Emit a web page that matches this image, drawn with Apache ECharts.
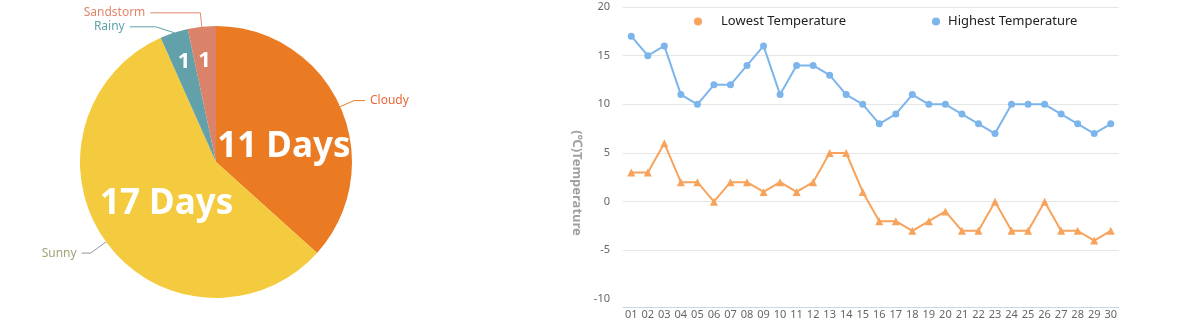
<!DOCTYPE html>
<html><head><meta charset="utf-8">
<script src="https://cdn.jsdelivr.net/npm/echarts@6/dist/echarts.min.js"></script>
<style>html,body{margin:0;padding:0;background:#fff}#c{width:1200px;height:322px}</style>
</head><body><div id="c"></div>
<script>
// ---- data ----
const weatherNames = ['Cloudy', 'Sunny', 'Rainy', 'Sandstorm'];
const weatherDays = [11, 17, 1, 1];
const weatherInnerText = ['11 Days', '17 Days', '1', '1'];
const days = ['01','02','03','04','05','06','07','08','09','10','11','12','13','14','15','16','17','18','19','20','21','22','23','24','25','26','27','28','29','30'];
const highestTemp = [17,15,16,11,10,12,12,14,16,11,14,14,13,11,10,8,9,11,10,10,9,8,7,10,10,10,9,8,7,8];
const lowestTemp = [3,3,6,2,2,0,2,2,1,2,1,2,5,5,1,-2,-2,-3,-2,-1,-3,-3,0,-3,-3,0,-3,-3,-4,-3];

// ---- styles ----
const sliceColors = ['#EB7B23', '#F4CB3F', '#62A1A9', '#DA826A'];
const labelColors = ['#E8693A', '#A3A274', '#5EA3AA', '#E0866A'];
const lineColors = ['#EB7B23', '#8E979C', '#5EA3AA', '#E0866A'];
const lineLen = [[15, 11], [19, 9], [12, 26], [14, 50]];
const innerFont = [35, 35, 22, 22];
const innerShift = [[3, 14], [8, 0], [-10, -33], [-4, -31]];
const FONT = '"Noto Sans", "Open Sans", sans-serif';

const outerData = weatherNames.map((n, i) => ({
  name: n, value: weatherDays[i],
  itemStyle: { color: sliceColors[i] },
  label: { color: labelColors[i] },
  labelLine: { length: lineLen[i][0], length2: lineLen[i][1], lineStyle: { color: lineColors[i] } }
}));
const innerData = weatherNames.map((n, i) => ({
  name: n, value: weatherDays[i],
  itemStyle: { color: 'rgba(0,0,0,0)' },
  label: { formatter: weatherInnerText[i], fontSize: innerFont[i] }
}));

const chart = echarts.init(document.getElementById('c'), null, { renderer: 'canvas' });
chart.setOption({
  animation: false,
  textStyle: { fontFamily: FONT },
  legend: [
    { data: ['Lowest Temperature'], left: 689, top: 10, icon: 'circle', itemWidth: 36, itemHeight: 8,
      textStyle: { fontSize: 13, color: '#222', fontFamily: FONT } },
    { data: ['Highest Temperature'], left: 927, top: 10, icon: 'circle', itemWidth: 14, itemHeight: 8,
      textStyle: { fontSize: 13, color: '#222', fontFamily: FONT } }
  ],
  grid: { left: 623, right: 81, top: 7, bottom: 23, containLabel: false },
  xAxis: {
    type: 'category', data: days, boundaryGap: true, offset: 8,
    axisLine: { onZero: false, lineStyle: { color: '#CCD6EB' } },
    axisTick: { inside: true, length: 6, lineStyle: { color: '#CCD6EB' } },
    axisLabel: { color: '#666', fontSize: 11, margin: 2, interval: 0 }
  },
  yAxis: {
    type: 'value', min: -10, max: 20, interval: 5,
    name: '(℃)Temperature', nameLocation: 'middle', nameRotate: -90, nameGap: 40,
    nameTextStyle: { color: '#A0A0A0', fontWeight: 'bold', fontSize: 13, padding: [0, 0, 0, 60] },
    axisLine: { show: false }, axisTick: { show: false },
    axisLabel: { color: '#666', fontSize: 11, margin: 13 },
    splitLine: { showMinLine: false, lineStyle: { color: '#E6E6E6' } }
  },
  series: [
    { type: 'pie', center: [216, 162], radius: 136, startAngle: 90, clockwise: true,
      data: outerData, silent: true,
      label: { show: true, position: 'outside', fontSize: 12, fontFamily: FONT },
      labelLine: { smooth: false }
    },
    { type: 'pie', center: [216, 162], radius: 136, startAngle: 90, clockwise: true,
      data: innerData, silent: true,
      label: { show: true, position: 'inside', color: '#fff', fontWeight: 'bold', fontFamily: FONT },
      labelLine: { show: false },
      labelLayout: (p) => ({ dx: innerShift[p.dataIndex][0], dy: innerShift[p.dataIndex][1] })
    },
    { type: 'line', name: 'Lowest Temperature', data: lowestTemp,
      symbol: 'triangle', symbolSize: 8, color: '#F7A35C',
      lineStyle: { width: 2, color: '#F7A35C' }, itemStyle: { color: '#F7A35C' } },
    { type: 'line', name: 'Highest Temperature', data: highestTemp,
      symbol: 'circle', symbolSize: 7, color: '#7CB5EC',
      lineStyle: { width: 2, color: '#7CB5EC' }, itemStyle: { color: '#7CB5EC' } }
  ]
});
</script></body></html>
